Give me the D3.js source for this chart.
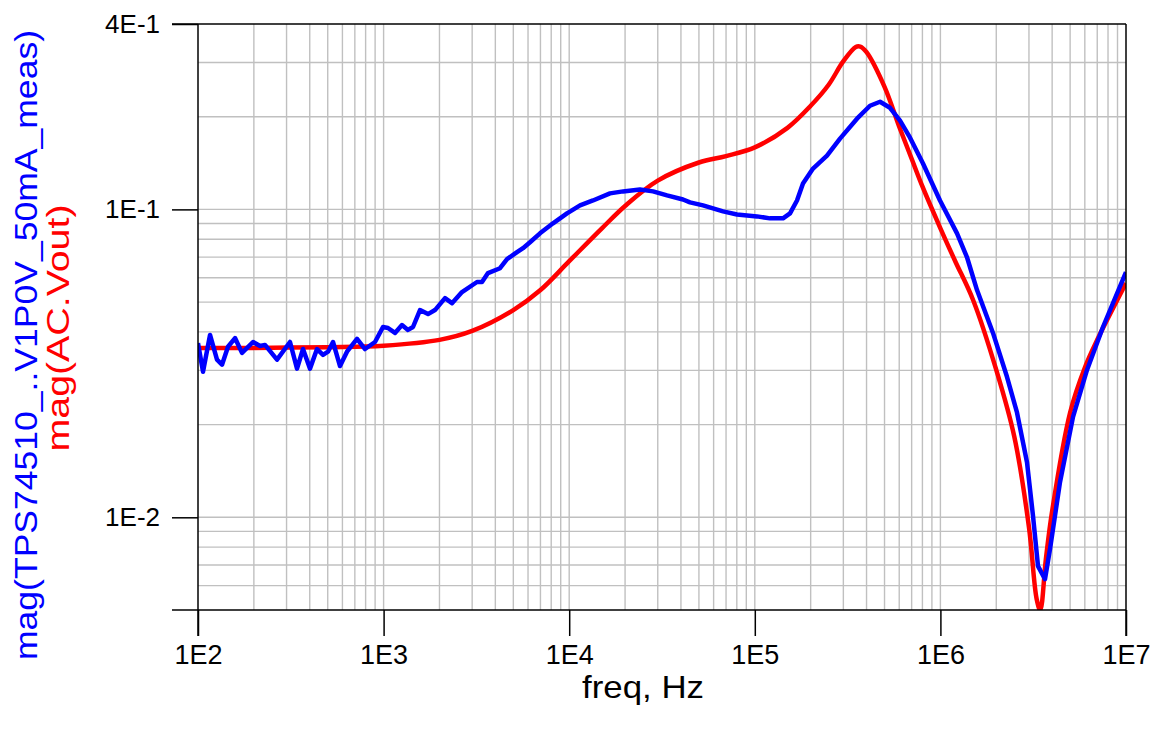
<!DOCTYPE html>
<html>
<head>
<meta charset="utf-8">
<script src="https://cdn.jsdelivr.net/npm/d3@7"></script>
<style>
  html, body { margin: 0; padding: 0; background: #fff; }
  svg { display: block; font-family: "Liberation Sans", Arial, sans-serif; }
</style>
</head>
<body>
<svg id="chart" width="1157" height="736"></svg>
<script>
// ---- data ----
const xTickValues = [1e2, 1e3, 1e4, 1e5, 1e6, 1e7];
const xTickLabels = ["1E2", "1E3", "1E4", "1E5", "1E6", "1E7"];
const yTickValues = [0.4, 0.1, 0.01];
const yTickLabels = ["4E-1", "1E-1", "1E-2"];

// measured: mag(TPS74510_..V1P0V_50mA_meas)
const measFreq = [100, 106.4, 116.1, 126.6, 134.7, 145.1, 158.3, 172.6, 197.9, 215.9, 229.6, 266.5, 313.1, 341.6, 367.9, 401.2, 437.7, 471.6, 501.6, 533.8, 582.3, 635.0, 719.2, 794.0, 898.9, 992.7, 1056, 1152, 1256, 1353, 1440, 1571, 1735, 1892, 2142, 2336, 2645, 3186, 3390, 3652, 4240, 4624, 5234, 5638, 6150, 6962, 8180, 9730, 11440, 13430, 16590, 19500, 24070, 28290, 33650, 41040, 44760, 52600, 67430, 80200, 102800, 120700, 141900, 154800, 168800, 181800, 205900, 244900, 287800, 355300, 417600, 472800, 535100, 605900, 686000, 805800, 995000, 1.229e6, 1.391e6, 1.575e6, 1.920e6, 2.284e6, 2.586e6, 2.928e6, 3.155e6, 3.357e6, 3.661e6, 3.895e6, 4.409e6, 5.183e6, 6.165e6, 7.517e6, 1e7];
const measMag = [0.0368, 0.0297, 0.0391, 0.0325, 0.0313, 0.0358, 0.0382, 0.0342, 0.0371, 0.0360, 0.0363, 0.0325, 0.0371, 0.0304, 0.0352, 0.0304, 0.0352, 0.0337, 0.0345, 0.0371, 0.0310, 0.0345, 0.0380, 0.0352, 0.0371, 0.0415, 0.0412, 0.0397, 0.0421, 0.0406, 0.0415, 0.0471, 0.0457, 0.0471, 0.0515, 0.0496, 0.0539, 0.0581, 0.0581, 0.0621, 0.0644, 0.0689, 0.0726, 0.0748, 0.0782, 0.0836, 0.0901, 0.0971, 0.1030, 0.1069, 0.1127, 0.1144, 0.1161, 0.1144, 0.1110, 0.1077, 0.1054, 0.1030, 0.0985, 0.0963, 0.0949, 0.0935, 0.0935, 0.0971, 0.1069, 0.1214, 0.1357, 0.1496, 0.1697, 0.1970, 0.2171, 0.2236, 0.2138, 0.1941, 0.1710, 0.1409, 0.1069, 0.0836, 0.0699, 0.0547, 0.0397, 0.0286, 0.0219, 0.0151, 0.0101, 0.00694, 0.00630, 0.00788, 0.0130, 0.0212, 0.0301, 0.0415, 0.0625];

// simulated: mag(AC.Vout)
const simFreq = [100, 200, 500, 1000, 2000, 3000, 5000, 7000, 10000, 15000, 20000, 30000, 50000, 70000, 100000, 150000, 200000, 250000, 300000, 350000, 370000, 400000, 500000, 600000, 700000, 800000, 1e6, 1.2e6, 1.5e6, 2e6, 2.5e6, 3e6, 3.3e6, 3.45e6, 3.7e6, 4e6, 5e6, 6e6, 7e6, 1e7];
const simMag = [0.0355, 0.0355, 0.0357, 0.0361, 0.0377, 0.0403, 0.0471, 0.0547, 0.0679, 0.0868, 0.1026, 0.124, 0.142, 0.149, 0.159, 0.184, 0.217, 0.254, 0.303, 0.337, 0.338, 0.324, 0.250, 0.1856, 0.146, 0.1187, 0.0868, 0.0680, 0.0508, 0.0301, 0.0183, 0.00929, 0.00543, 0.0050, 0.00731, 0.01047, 0.0219, 0.0306, 0.0377, 0.0576];

const xLabel = "freq, Hz";
const yLabelMeas = "mag(TPS74510_..V1P0V_50mA_meas)";
const yLabelSim = "mag(AC.Vout)";

// ---- layout ----
const L = 198, R = 1126, T = 24, B = 610;
const svg = d3.select("#chart");
const x = d3.scaleLog().domain([1e2, 1e7]).range([L, R]);
const y = d3.scaleLog().domain([0.005, 0.4]).range([B, T]);

// grid values
const xGrid = [];
for (let e = 2; e < 7; e++) for (let k = 1; k <= 9; k++) xGrid.push(k * Math.pow(10, e));
const yGrid = [];
for (let e = -3; e <= -1; e++) for (let k = 1; k <= 9; k++) {
  const v = k * Math.pow(10, e);
  if (v >= 0.005 - 1e-9 && v <= 0.4 + 1e-9) yGrid.push(v);
}

const grid = svg.append("g").attr("stroke", "#c0c0c0").attr("stroke-width", 1.4);
grid.selectAll("line.vx").data(xGrid.filter(v => v > 1e2)).join("line")
  .attr("x1", d => x(d)).attr("x2", d => x(d)).attr("y1", T).attr("y2", B);
grid.selectAll("line.hy").data(yGrid.filter(v => v > 0.0051 && v < 0.399)).join("line")
  .attr("x1", L).attr("x2", R).attr("y1", d => y(d)).attr("y2", d => y(d));

// curves
svg.append("clipPath").attr("id", "clip").append("rect")
  .attr("x", L).attr("y", T - 2).attr("width", R - L).attr("height", B - T + 2);

const simData = simFreq.map((f, i) => [f, simMag[i]]);
const measData = measFreq.map((f, i) => [f, measMag[i]]);

const simLine = d3.line().x(d => x(d[0])).y(d => y(d[1])).curve(d3.curveCatmullRom.alpha(0.5));
const measLine = d3.line().x(d => x(d[0])).y(d => y(d[1])).curve(d3.curveLinear);

const plot = svg.append("g").attr("clip-path", "url(#clip)");
plot.append("path").datum(simData).attr("d", simLine)
  .attr("fill", "none").attr("stroke", "#ff0000").attr("stroke-width", 4.5).attr("stroke-linejoin", "round");
plot.append("path").datum(measData).attr("d", measLine)
  .attr("fill", "none").attr("stroke", "#0000ff").attr("stroke-width", 4.5).attr("stroke-linejoin", "round");

// frame
const frame = svg.append("g").attr("stroke", "#000").attr("stroke-width", 1.5).attr("fill", "none");
frame.append("line").attr("x1", L - 26).attr("x2", R).attr("y1", T).attr("y2", T);
frame.append("line").attr("x1", L - 26).attr("x2", R).attr("y1", B).attr("y2", B);
frame.append("line").attr("x1", L).attr("x2", L).attr("y1", T).attr("y2", B + 26);
frame.append("line").attr("x1", R).attr("x2", R).attr("y1", T).attr("y2", B + 26);

// axes via d3 axis generators
const xAxis = d3.axisBottom(x).tickValues(xTickValues).tickFormat((d, i) => xTickLabels[i]).tickSize(26).tickPadding(9);
const gx = svg.append("g").attr("transform", `translate(0,${B})`).call(xAxis);
gx.select(".domain").remove();
gx.selectAll(".tick line").attr("stroke", "#000").attr("stroke-width", 1.5);
gx.selectAll(".tick text").attr("font-size", 27).attr("fill", "#000")
  .attr("font-family", "'Liberation Sans', Arial, sans-serif");

const yAxis = d3.axisLeft(y).tickValues(yTickValues).tickFormat((d, i) => yTickLabels[i]).tickSize(26).tickPadding(12);
const gy = svg.append("g").attr("transform", `translate(${L},0)`).call(yAxis);
gy.select(".domain").remove();
gy.selectAll(".tick line").attr("stroke", "#000").attr("stroke-width", 1.5);
gy.selectAll(".tick text").attr("font-size", 26).attr("fill", "#000")
  .attr("font-family", "'Liberation Sans', Arial, sans-serif");

// axis titles
svg.append("text").attr("x", 643).attr("y", 698).attr("text-anchor", "middle")
  .attr("font-size", 32).attr("fill", "#000")
  .attr("textLength", 122).attr("lengthAdjust", "spacingAndGlyphs").text(xLabel);

svg.append("text").attr("transform", "translate(37,345) rotate(-90)").attr("text-anchor", "middle")
  .attr("font-size", 31).attr("fill", "#0000ff")
  .attr("textLength", 630).attr("lengthAdjust", "spacingAndGlyphs").text(yLabelMeas);
svg.append("text").attr("transform", "translate(69,328) rotate(-90)").attr("text-anchor", "middle")
  .attr("font-size", 31).attr("fill", "#ff0000")
  .attr("textLength", 247).attr("lengthAdjust", "spacingAndGlyphs").text(yLabelSim);
</script>
</body>
</html>
